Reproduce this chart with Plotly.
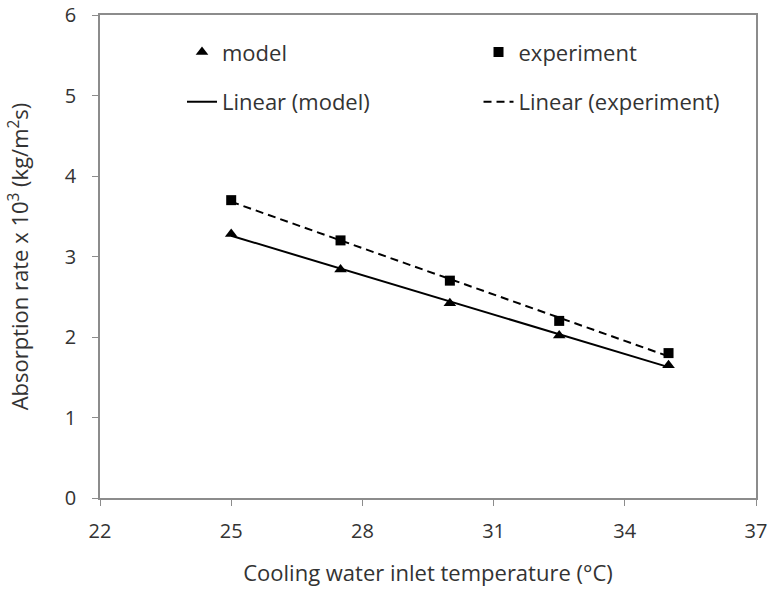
import numpy as np
import plotly.graph_objects as go

temps = [25, 27.5, 30, 32.5, 35]
model = [3.28, 2.84, 2.42, 2.02, 1.65]
experiment = [3.70, 3.20, 2.70, 2.20, 1.80]
x_ticks = [22, 25, 28, 31, 34, 37]
y_ticks = [0, 1, 2, 3, 4, 5, 6]

FONT = "Open Sans"
TXT = "#333333"
GREY = "#8c8c8c"

def linfit(x, y):
    m, b = np.polyfit(x, y, 1)
    xs = np.array([min(x), max(x)])
    return xs, m * xs + b

fig = go.Figure()
fig.add_trace(go.Scatter(x=temps, y=model, mode="markers", name="model",
                         marker=dict(symbol="triangle-up", size=11, color="black"),
                         legend="legend"))
fig.add_trace(go.Scatter(x=temps, y=experiment, mode="markers", name="experiment",
                         marker=dict(symbol="square", size=10, color="black"),
                         legend="legend2"))
mx, my = linfit(temps, model)
ex, ey = linfit(temps, experiment)
fig.add_trace(go.Scatter(x=mx, y=my, mode="lines", name="Linear (model)",
                         line=dict(color="black", width=2), legend="legend3"))
fig.add_trace(go.Scatter(x=ex, y=ey, mode="lines", name="Linear (experiment)",
                         line=dict(color="black", width=2, dash="8px,5px"), legend="legend4"))

lc = dict(orientation="h", font=dict(family=FONT, size=22, color=TXT),
          bgcolor="rgba(0,0,0,0)", xanchor="left", yanchor="middle", itemwidth=30)
col1, col2 = 0.125, 0.577
row1, row2 = 0.923, 0.82
fig.update_layout(
    width=769, height=591,
    margin=dict(l=100, r=13, t=15, b=93),
    paper_bgcolor="white", plot_bgcolor="white",
    showlegend=True,
    font=dict(family=FONT, size=20, color=TXT),
    legend=dict(x=col1, y=row1, **lc),
    legend2=dict(x=col2, y=row1, **lc),
    legend3=dict(x=col1, y=row2, **lc),
    legend4=dict(x=col2, y=row2, **lc),
    xaxis=dict(range=[22, 37], tickvals=x_ticks, ticks="outside", ticklen=6,
               tickcolor=GREY, linecolor=GREY, linewidth=1.5, mirror=True,
               showgrid=False, zeroline=False, ticklabelstandoff=8, automargin=False,
               tickfont=dict(family=FONT, size=20, color=TXT),
               title=dict(text="Cooling water inlet temperature (°C)",
                          font=dict(family=FONT, size=22, color=TXT), standoff=23)),
    yaxis=dict(range=[0, 6], tickvals=y_ticks, ticks="outside", ticklen=6,
               tickcolor=GREY, linecolor=GREY, linewidth=1.5, mirror=True,
               showgrid=False, zeroline=False, ticklabelstandoff=12, automargin=False,
               tickfont=dict(family=FONT, size=20, color=TXT),
               title=dict(text="Absorption rate x 10<sup>3</sup> (kg/m<sup>2</sup>s)",
                          font=dict(family=FONT, size=22, color=TXT), standoff=30)),
)
fig.write_html("out.html")
